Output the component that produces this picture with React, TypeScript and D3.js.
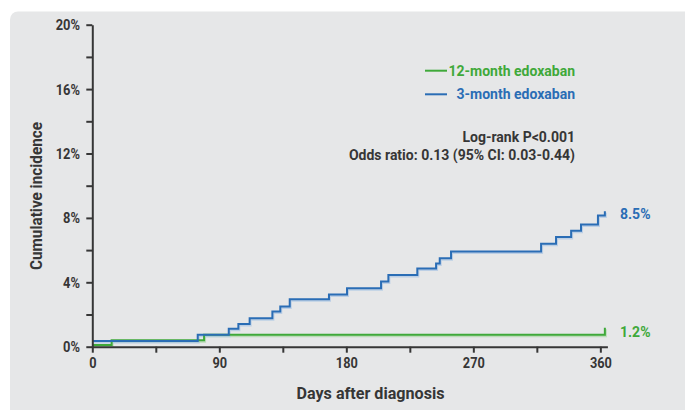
import React, { useEffect, useRef } from "react";
import * as d3 from "d3";

const width = 685;
const height = 410;

// cumulative incidence (%), step-after
const daysLong = [0, 74.7, 96.7, 103.5, 111.5, 127.6, 133.2, 139.9, 167.7, 180.5, 204.6, 209.8, 230.3, 243.6, 246.2, 254.2, 318, 328.6, 339.3, 346.3, 358.3, 363.2];
const incShort3m = [0.35, 0.75, 1.12, 1.41, 1.77, 2.18, 2.49, 2.95, 3.24, 3.63, 4.05, 4.46, 4.85, 5.16, 5.5, 5.91, 6.4, 6.82, 7.2, 7.59, 8.15, 8.42];
const days12m = [0, 13.7, 79.2, 363.2];
const inc12m = [0.1, 0.4, 0.75, 1.18];

const seriesNames = ["12-month edoxaban", "3-month edoxaban"];
const endLabels = ["1.2%", "8.5%"];
const xTicks = [0, 45, 90, 135, 180, 225, 270, 315, 360];
const yTicks = [0, 2, 4, 6, 8, 10, 12, 14, 16, 18, 20];
const stats = ["Log-rank P<0.001", "Odds ratio: 0.13 (95% CI: 0.03-0.44)"];

const GREEN = "#3fa93a";
const BLUE = "#2a6db5";
const INK = "#363636";
const FONT = "Roboto, 'Noto Sans', sans-serif";

const xScale = d3.scaleLinear().domain([0, 365]).range([92.3, 607.4]);
const yScale = d3.scaleLinear().domain([0, 20]).range([346.7, 24.7]);

const stepLine = d3
  .line<[number, number]>()
  .x(d => xScale(d[0]))
  .y(d => yScale(d[1]))
  .curve(d3.curveStepAfter);

const green = days12m.map((d, i) => [d, inc12m[i]] as [number, number]);
const blue = daysLong.map((d, i) => [d, incShort3m[i]] as [number, number]);

export default function App() {
  const xAxisRef = useRef<SVGGElement>(null);
  const yAxisRef = useRef<SVGGElement>(null);

  useEffect(() => {
    const xAxis = d3
      .axisBottom(xScale)
      .tickValues(xTicks)
      .tickSize(6)
      .tickSizeOuter(0)
      .tickFormat(d => ((d as number) % 90 === 0 ? `${d}` : ""));
    const yAxis = d3
      .axisLeft(yScale)
      .tickValues(yTicks)
      .tickSize(6)
      .tickSizeOuter(0)
      .tickFormat(d => ((d as number) % 4 === 0 ? `${d}%` : ""));

    const gx = d3.select(xAxisRef.current!).call(xAxis);
    const gy = d3.select(yAxisRef.current!).call(yAxis);

    [gx, gy].forEach(g => {
      g.selectAll("path, line").attr("stroke", INK).attr("stroke-width", 2);
      g.selectAll("text")
        .attr("fill", INK)
        .style("font-family", FONT)
        .style("font-size", "15px")
        .style("font-weight", 700);
    });
    gx.selectAll("text").attr("y", 21.6).attr("dy", 0).attr("transform", "scale(0.85,1)");
    gy.selectAll("text").attr("x", -14.3).attr("dy", 0).attr("y", 5).attr("transform", "scale(0.86,1)");
  }, []);

  return (
    <div style={{ position: "absolute", left: 0, top: 0 }}>
      <svg width={width} height={height} style={{ display: "block" }}>
        <rect x={10} y={11.5} width={700} height={420} rx={8} fill="#e6e7e8" />

        <path d={stepLine(green)!} fill="none" stroke="#a9d6a4" strokeWidth={2} opacity={0.7} transform="translate(1,1.5)" />
        <path d={stepLine(blue)!} fill="none" stroke="#a9c4e4" strokeWidth={2} opacity={0.7} transform="translate(1,1.5)" />
        <path d={stepLine(green)!} fill="none" stroke={GREEN} strokeWidth={2} />
        <path d={stepLine(blue)!} fill="none" stroke={BLUE} strokeWidth={2} />

        <g ref={xAxisRef} transform={`translate(0, ${yScale(0)})`} />
        <g ref={yAxisRef} transform={`translate(${xScale(0)}, 0)`} />

        <text
          x={0}
          y={0}
          transform="translate(41.5, 196) rotate(-90)"
          textAnchor="middle"
          fill={INK}
          fontFamily={FONT}
          fontWeight={700}
          fontSize={16}
          textLength={148}
          lengthAdjust="spacingAndGlyphs"
        >
          Cumulative incidence
        </text>
        <text
          x={370.5}
          y={399}
          textAnchor="middle"
          fill={INK}
          fontFamily={FONT}
          fontWeight={700}
          fontSize={16}
          textLength={148}
          lengthAdjust="spacingAndGlyphs"
        >
          Days after diagnosis
        </text>

        {/* legend */}
        {seriesNames.map((name, i) => (
          <g key={name} fontFamily={FONT} fontWeight={700} fontSize={14}>
            <line x1={425} x2={447} y1={70.7 + i * 23.6} y2={70.7 + i * 23.6} stroke={i === 0 ? GREEN : BLUE} strokeWidth={2} />
            <text x={575} y={75.5 + i * 23.6} textAnchor="end" fill={i === 0 ? GREEN : BLUE}>
              {name}
            </text>
          </g>
        ))}

        {stats.map((s, i) => (
          <text key={s} x={575} y={142 + i * 18} textAnchor="end" fill={INK} fontFamily={FONT} fontWeight={700} fontSize={14}>
            {s}
          </text>
        ))}

        <text x={620} y={yScale(inc12m[inc12m.length - 1]) + 9} fill={GREEN} fontFamily={FONT} fontWeight={700} fontSize={14}>
          {endLabels[0]}
        </text>
        <text x={620} y={yScale(incShort3m[incShort3m.length - 1]) + 8} fill={BLUE} fontFamily={FONT} fontWeight={700} fontSize={14}>
          {endLabels[1]}
        </text>
      </svg>
    </div>
  );
}
